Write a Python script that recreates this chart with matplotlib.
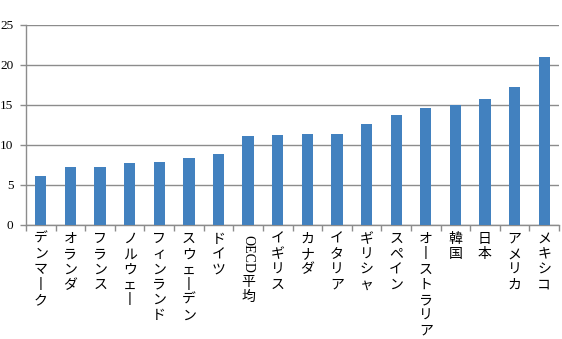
import matplotlib
matplotlib.use('Agg')
import matplotlib.pyplot as plt
from matplotlib.transforms import blended_transform_factory, ScaledTranslation
import numpy as np

categories = ['デンマーク', 'オランダ', 'フランス', 'ノルウェー', 'フィンランド',
              'スウェーデン', 'ドイツ', 'OECD平均', 'イギリス', 'カナダ', 'イタリア',
              'ギリシャ', 'スペイン', 'オーストラリア', '韓国', '日本', 'アメリカ', 'メキシコ']
values = [6.1, 7.2, 7.2, 7.8, 7.9, 8.4, 8.9, 11.1, 11.3, 11.4, 11.4,
          12.6, 13.7, 14.6, 15.0, 15.7, 17.3, 21.0]
y_ticks = [0, 5, 10, 15, 20, 25]

bar_color = '#4281BF'
grid_color = '#8c8c8c'

fig = plt.figure(figsize=(5.62, 3.39), dpi=100)
ax = fig.add_axes([0.0463, 0.3363, 0.9484, 0.59])
n = len(categories)
x = np.arange(n)
ax.bar(x, values, width=0.38, color=bar_color, zorder=3)
ax.set_xlim(-0.5, n - 0.5)
ax.set_ylim(0, 25)
ax.set_yticks(y_ticks)
ax.set_yticklabels([str(t) for t in y_ticks], family='Liberation Serif', fontsize=9.5)
ax.yaxis.grid(True, color=grid_color, lw=1, zorder=0)
ax.set_xticks(np.arange(n + 1) - 0.5)
ax.set_xticklabels([])
ax.tick_params(axis='x', length=4, color=grid_color, width=1)
ax.tick_params(axis='y', length=4, color=grid_color, width=1, pad=5)
for s in ['top', 'right']:
    ax.spines[s].set_visible(False)
for s in ['left', 'bottom']:
    ax.spines[s].set_color(grid_color)
    ax.spines[s].set_linewidth(1)

base = blended_transform_factory(ax.transData, ax.transAxes)
start = 5.0
jp_pitch = 11.0
jp_font = ['Noto Sans CJK JP', 'DejaVu Sans']
for i, label in enumerate(categories):
    off = start
    latin = ''.join(c for c in label if c.isascii())
    rest = label[len(latin):]
    if latin:
        tr = base + ScaledTranslation(0, -(off + 2) / 72, fig.dpi_scale_trans)
        ax.text(i, 0, latin, transform=tr, ha='center', va='top', rotation=-90,
                family='Liberation Serif', fontsize=10, clip_on=False)
        off += 2 + 29
    for ch in rest:
        tr = base + ScaledTranslation(0, -off / 72, fig.dpi_scale_trans)
        glyph = '丨' if ch == 'ー' else ch
        ax.text(i, 0, glyph, transform=tr, ha='center', va='top',
                family=jp_font, fontsize=10, clip_on=False)
        off += jp_pitch

fig.savefig('out.png', dpi=100)
